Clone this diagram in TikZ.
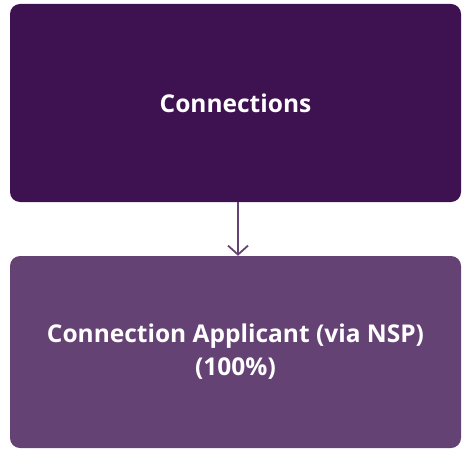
\documentclass[tikz,border=0pt]{standalone}
\usepackage{fontspec}
\setmainfont{Open Sans}
\usetikzlibrary{arrows.meta,calc}
\definecolor{darkpurple}{HTML}{3E1150}
\definecolor{midpurple}{HTML}{654274}
\tikzset{
  box/.style={rounded corners=10pt, text=white, font=\bfseries\fontsize{24.5}{33}\selectfont,
    align=center, minimum width=451pt, inner sep=0pt},
  link/.style={draw=midpurple, line width=1.8pt, -{Straight Barb[length=9pt,width=20pt,line width=1.8pt]}}
}
\begin{document}
\begin{tikzpicture}[x=1pt,y=1pt]
\useasboundingbox (0,0) rectangle (462,-449);
\node[box, fill=darkpurple, minimum height=198pt] (top) at (235.5,-103) {Connections};
\node[box, fill=midpurple, minimum height=192pt] (bottom) at (235.5,-352) {Connection Applicant (via NSP)\\(100\%)};
\draw[link] ($(top.south)+(2.5,0)$) -- ($(bottom.north)+(2.5,0)$);
\end{tikzpicture}
\end{document}
